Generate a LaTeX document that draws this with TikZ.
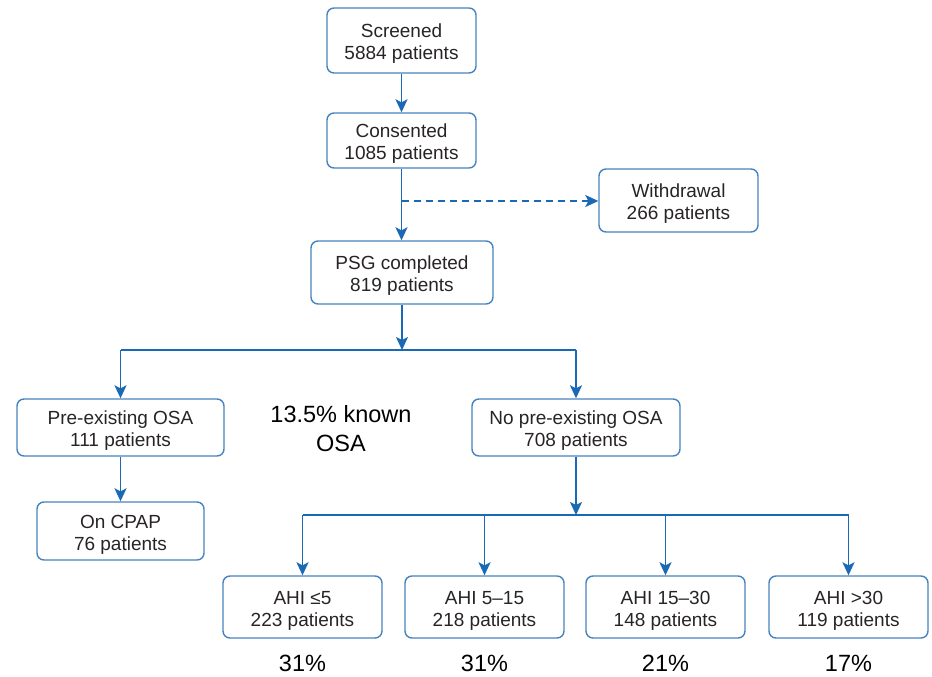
\documentclass[tikz,border=0pt]{standalone}
\usepackage{fontspec}
\setmainfont{Liberation Sans}
\usetikzlibrary{arrows.meta}
\definecolor{boxblue}{RGB}{70,130,190}
\definecolor{linkblue}{RGB}{25,105,180}
\definecolor{ink}{RGB}{40,36,38}
\begin{document}
\begin{tikzpicture}[x=1pt,y=-1pt,
  box/.style={draw=boxblue, line width=1.4pt, rounded corners=7pt, align=center,
    text=ink, inner sep=0pt, font=\fontsize{19}{22}\selectfont,
    text height=42.5pt, text depth=4.5pt},
  smallbox/.style={box, minimum width=159pt, minimum height=62pt},
  link/.style={draw=linkblue, line width=1.6pt,
    -{Stealth[length=13pt,width=12pt,inset=3pt]}},
  dashlink/.style={link, dash pattern=on 7pt off 5pt},
  plain/.style={draw=linkblue, line width=1.6pt},
  big/.style={align=center, font=\fontsize{23.5}{29}\selectfont, text=black}]
\useasboundingbox (0,0) rectangle (932,677);

% main trunk
\node[box, minimum width=149pt, minimum height=65pt] (scr) at (401.5,40.5) {Screened\\5884 patients};
\node[box, minimum width=149pt, minimum height=55pt] (con) at (401.5,140.5) {Consented\\1085 patients};
\node[box, minimum width=159pt, minimum height=63pt] (wdr) at (678.5,200.5) {Withdrawal\\266 patients};
\node[box, minimum width=182pt, minimum height=63pt] (psg) at (402,272.5) {PSG completed\\819 patients};

% first split
\node[box, minimum width=207pt, minimum height=57pt] (pre) at (120.5,427.5) {Pre-existing OSA\\111 patients};
\node[box, minimum width=167pt, minimum height=58pt] (cpap) at (120.5,531) {On CPAP\\76 patients};
\node[box, minimum width=208pt, minimum height=57pt] (nopre) at (576,427.5) {No pre-existing OSA\\708 patients};
\node[big] (known) at (341,429) {13.5\% known\\OSA};

% AHI groups
\node[smallbox] (a1) at (302.5,607) {AHI ≤5\\223 patients};
\node[smallbox] (a2) at (484.5,607) {AHI 5--15\\218 patients};
\node[smallbox] (a3) at (665.5,607) {AHI 15--30\\148 patients};
\node[smallbox] (a4) at (848.5,607) {AHI >30\\119 patients};

\node[big] (p1) at (302.5,663) {31\%};
\node[big] (p2) at (484.5,663) {31\%};
\node[big] (p3) at (665.5,663) {21\%};
\node[big] (p4) at (848.5,663) {17\%};

% connectors
\draw[link] (scr) -- (con);
\draw[link] (con.south) -- (con.south |- psg.north);
\coordinate (wd) at (401.5,201);
\draw[dashlink] (wd) -- (wdr.west |- wd);

\coordinate (s1) at (402,350);
\draw[link] (psg.south) -- (s1);
\draw[plain] (pre.north |- s1) -- (nopre.north |- s1);
\draw[link] (pre.north |- s1) -- (pre.north);
\draw[link] (nopre.north |- s1) -- (nopre.north);
\draw[link] (pre) -- (cpap);

\coordinate (s2) at (576,515);
\draw[link] (nopre.south) -- (s2);
\draw[plain] (a1.north |- s2) -- (a4.north |- s2);
\foreach \n in {a1,a2,a3,a4}
  \draw[link] (\n.north |- s2) -- (\n.north);
\end{tikzpicture}
\end{document}
